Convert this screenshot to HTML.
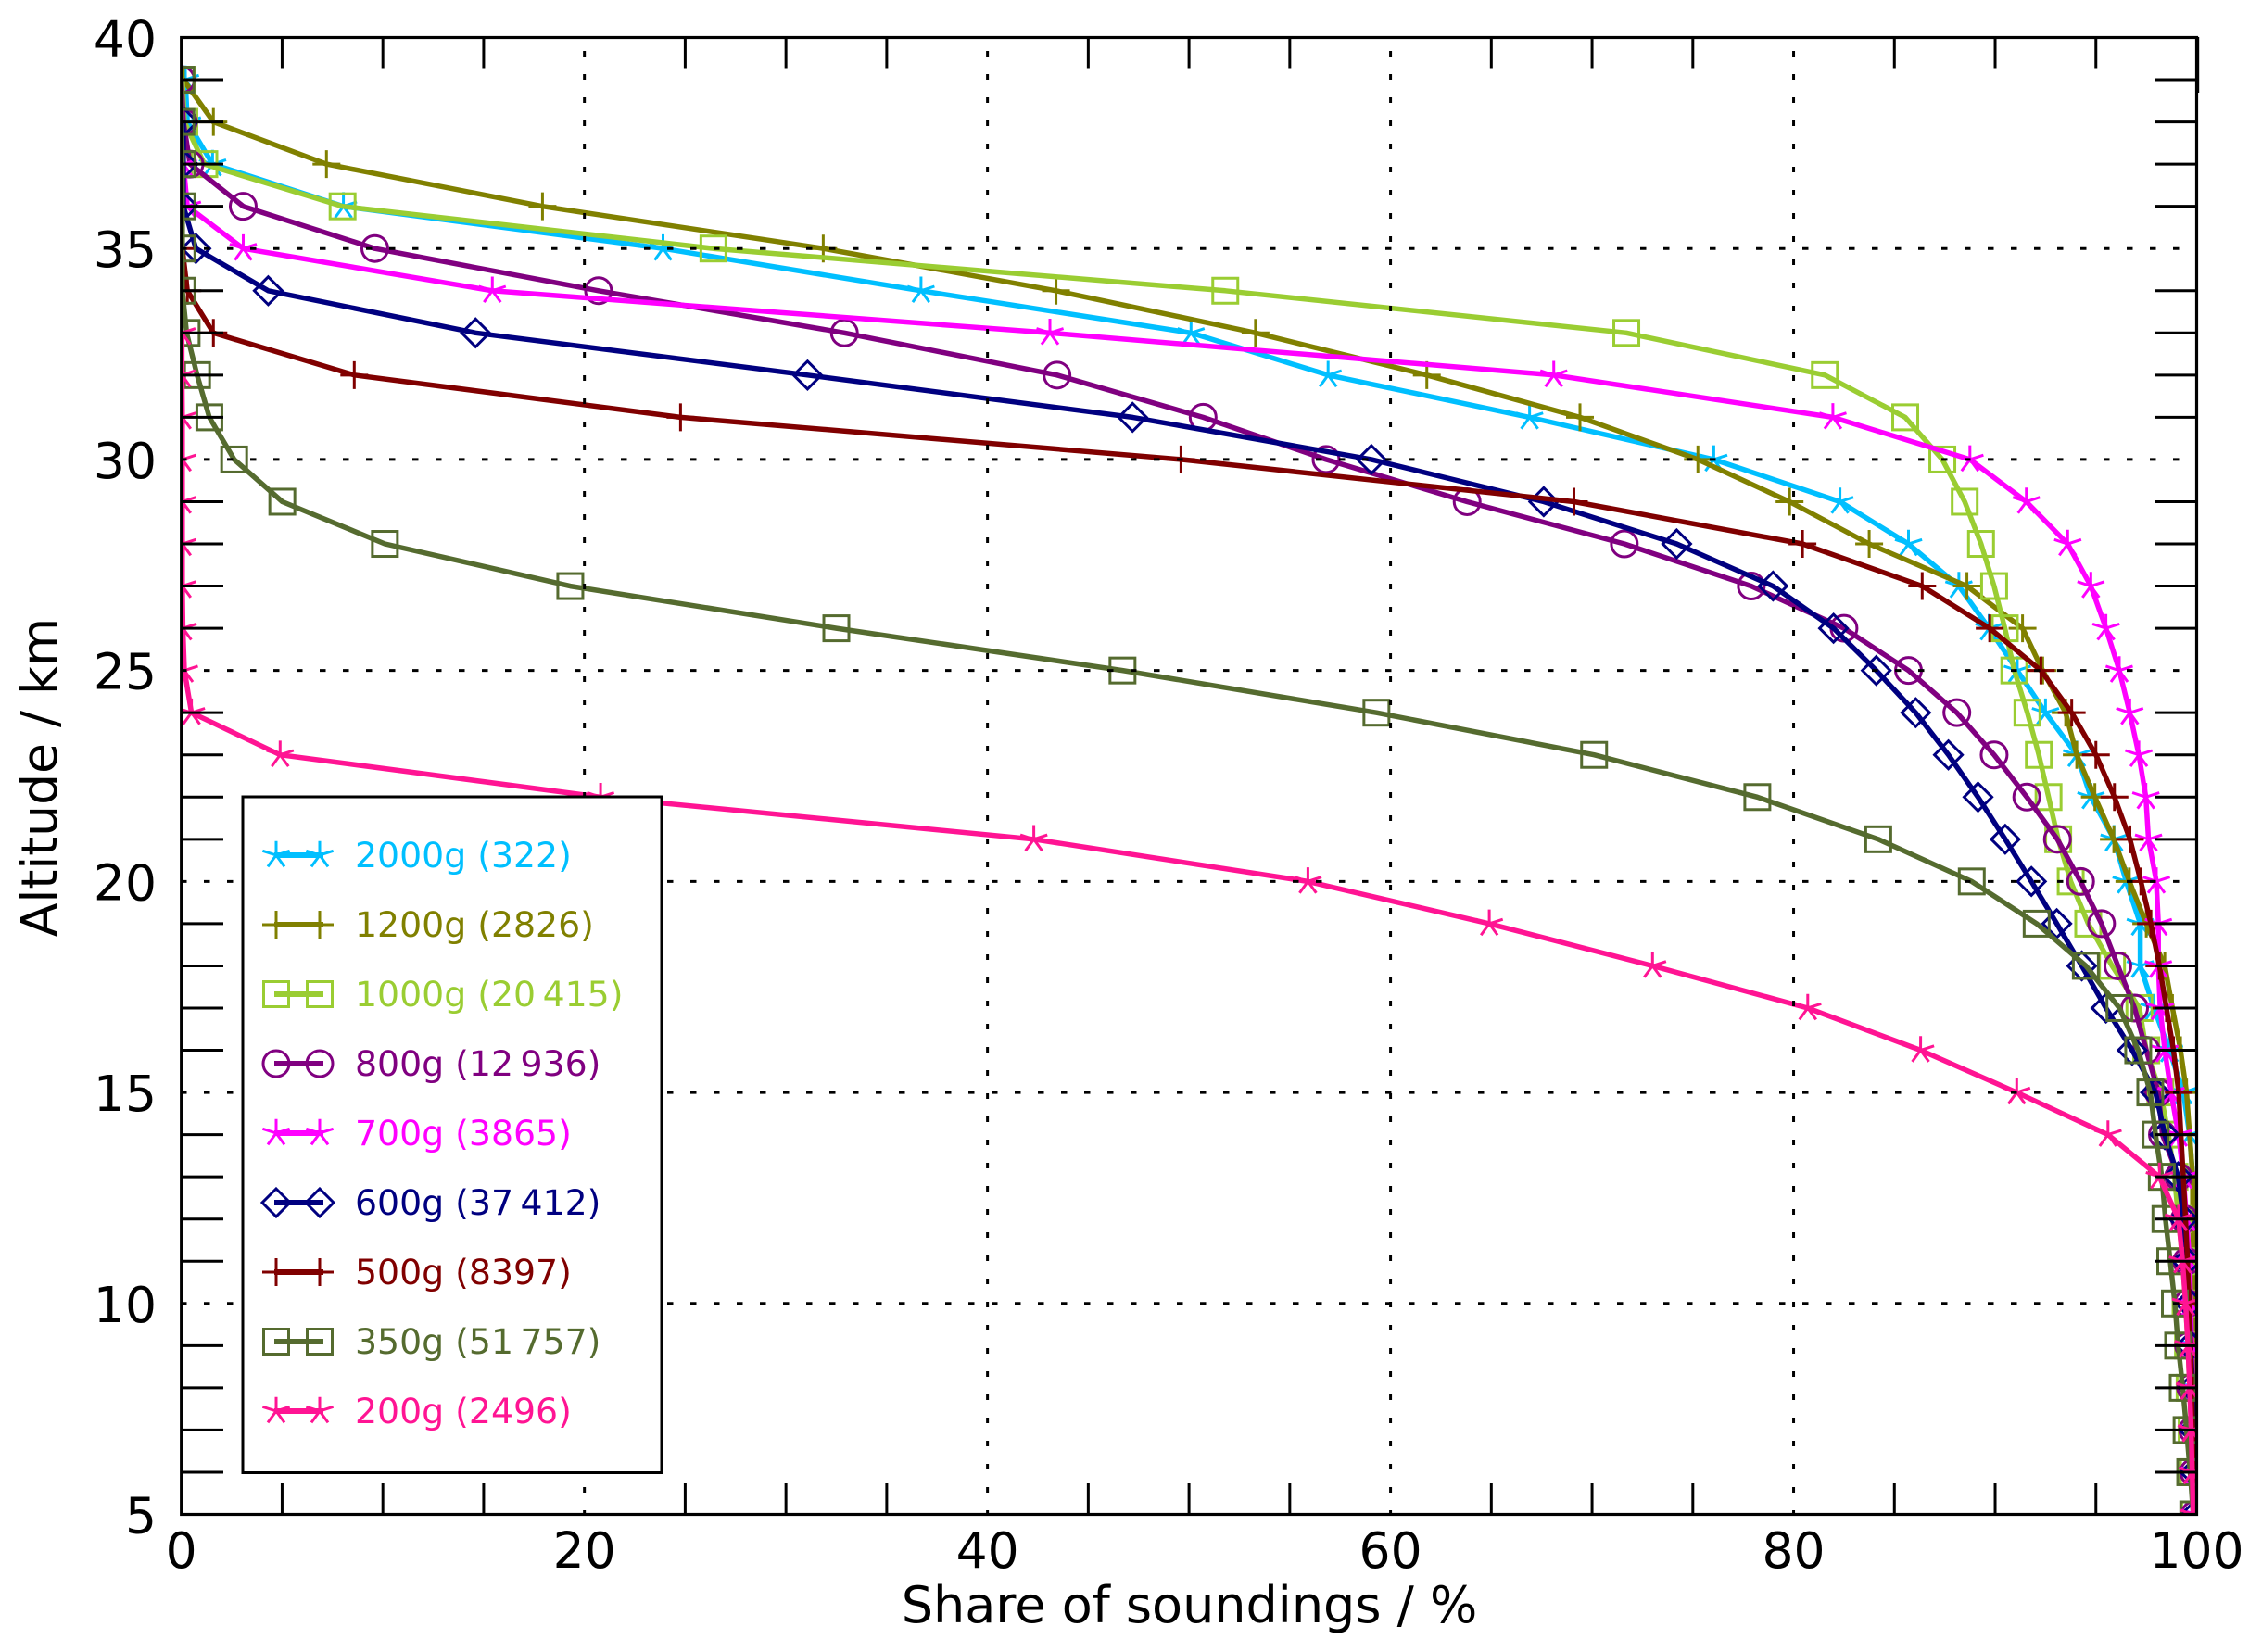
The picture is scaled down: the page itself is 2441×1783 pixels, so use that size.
<!DOCTYPE html>
<html lang="en">
<head>
<meta charset="utf-8">
<title>Share of soundings by altitude</title>
<style>
html,body{margin:0;padding:0;background:#fff;}
svg{display:block;}
text{font-family:"DejaVu Sans","Liberation Sans",sans-serif;}
</style>
</head>
<body>
<svg id="chart" xmlns="http://www.w3.org/2000/svg" width="2441" height="1783" viewBox="0 0 2441 1783">
  <defs>
    <clipPath id="plot-clip"><rect x="195.7" y="40.5" width="2174.8" height="1594"/></clipPath>
  </defs>
  <rect x="0" y="0" width="2441" height="1783" fill="#fff"/>
  <g id="series-layer" clip-path="url(#plot-clip)"></g>
  <g id="grid-layer"></g>
  <g id="tick-layer"></g>
  <rect x="195.7" y="40.5" width="2174.8" height="1594" fill="none" stroke="#000" stroke-width="3.2"/>
  <rect x="2371" y="40" width="2.2" height="60" fill="#000"/>
  <g id="label-layer" font-size="53.5" fill="#000"></g>
  <text x="1283.5" y="1751" font-size="54" text-anchor="middle" fill="#000">Share of soundings / %</text>
  <text x="61" y="839" font-size="53.5" text-anchor="middle" fill="#000" transform="rotate(-90 61 839)">Altitude / km</text>
  <rect x="262" y="860" width="452" height="729.5" fill="#fff" stroke="#000" stroke-width="3"/>
  <g id="legend-marks"></g>
  <g font-size="37.8">
    <text x="383" y="936" fill="#00BFFF">2000g (322)</text>
    <text x="383" y="1011" fill="#808000">1200g (2826)</text>
    <text x="383" y="1086" fill="#9ACD32">1000g (20&#8201;415)</text>
    <text x="383" y="1161" fill="#800080">800g (12&#8201;936)</text>
    <text x="383" y="1236" fill="#FF00FF">700g (3865)</text>
    <text x="383" y="1311" fill="#000080">600g (37&#8201;412)</text>
    <text x="383" y="1386" fill="#800000">500g (8397)</text>
    <text x="383" y="1461" fill="#556B2F">350g (51&#8201;757)</text>
    <text x="383" y="1536" fill="#FF1493">200g (2496)</text>
  </g>
</svg>
<script>
// Share of soundings (%) at integer altitudes; each array runs downward and ends at 5 km.
const share2000g = [0.2,0.3,1.55,8.04,23.9,36.7,50.1,56.9,66.9,76.04,82.3,85.7,88.2,89.7,91.1,92.5,94.05,94.75,95.9,96.5,97.2,97.2,97.88,98.65,99.34,99.65,99.8,99.82,99.85,99.87,99.89,99.91,99.93,99.94,99.95];
const share1200g = [0.1,1.59,7.2,17.92,31.85,43.4,53.3,61.8,69.4,75.25,79.8,83.75,88.6,91.36,92.36,93.5,94.05,94.95,95.89,96.66,97.5,98.42,98.8,99.2,99.5,99.65,99.8,99.8,99.85,99.87,99.89,99.91,99.93,99.95,99.96];
const share1000g = [0.05,0.15,1.14,8.0,26.4,51.8,71.7,81.55,85.54,87.38,88.49,89.3,89.95,90.48,90.95,91.6,92.17,92.65,93.13,93.75,94.62,95.8,97.16,97.5,98.2,98.6,98.9,99.1,99.3,99.45,99.57,99.65,99.75,99.82,99.88];
const share800g = [0.0,0.1,0.43,3.07,9.6,20.7,32.9,43.45,50.7,56.8,63.8,71.6,77.9,82.5,85.7,88.1,89.95,91.57,93.09,94.24,95.28,96.09,96.92,97.5,98.1,98.3,99.1,99.4,99.5,99.55,99.6,99.7,99.8,99.85,99.9];
const share700g = [0.1,0.3,3.07,15.43,43.1,68.1,81.95,88.75,91.55,93.6,94.75,95.5,96.16,96.68,97.13,97.48,97.61,98.0,98.1,98.1,98.19,98.42,98.73,99.1,99.34,99.5,99.65,99.7,99.75,99.8,99.85,99.9,99.95];
const share600g = [0.1,0.1,0.1,0.72,4.31,14.6,31.07,47.2,59.05,67.6,74.2,78.98,81.98,84.1,86.06,87.68,89.15,90.5,91.8,93.06,94.3,95.5,96.8,97.96,98.42,99.08,99.35,99.5,99.65,99.7,99.8,99.85,99.9,99.93];
const share500g = [0.05,0.3,1.59,8.58,24.77,49.6,69.1,80.44,86.38,89.73,92.27,93.8,95.0,95.92,96.69,97.23,97.73,98.15,98.5,98.85,99.11,99.22,99.34,99.45,99.55,99.62,99.7,99.75,99.8,99.85,99.9];
const share350g = [0.0,0.0,0.05,0.05,0.05,0.05,0.26,0.78,1.39,2.62,5.01,10.1,19.3,32.5,46.7,59.3,70.1,78.2,84.2,88.84,92.06,94.5,96.17,97.1,97.7,97.96,98.27,98.45,98.69,98.92,99.08,99.31,99.5,99.68,99.83];
const share200g = [0.03,0.03,0.05,0.05,0.05,0.05,0.05,0.08,0.15,0.5,4.9,20.8,42.3,55.9,64.9,73.0,80.7,86.3,91.07,95.6,98.15,99.1,99.3,99.45,99.57,99.65,99.73,99.78,99.83];

const seriesNames = ['2000g','1200g','1000g','800g','700g','600g','500g','350g','200g'];
const seriesColors = ['#00BFFF','#808000','#9ACD32','#800080','#FF00FF','#000080','#800000','#556B2F','#FF1493'];
const seriesMarkers = ['star','plus','square','circle','star','diamond','plus','square','star'];
const seriesValues = [share2000g,share1200g,share1000g,share800g,share700g,share600g,share500g,share350g,share200g];

const xTickLabels = [0,20,40,60,80,100];
const yTickLabels = [5,10,15,20,25,30,35,40];
const xMinorTicks = [5,10,15,25,30,35,45,50,55,65,70,75,85,90,95];
const yMinorTicks = [6,7,8,9,11,12,13,14,16,17,18,19,21,22,23,24,26,27,28,29,31,32,33,34,36,37,38,39];
const xGridValues = [20,40,60,80];
const yGridValues = [10,15,20,25,30,35];
const bottomKm = 5;

const NS = 'http://www.w3.org/2000/svg';
function xScale(v){ return 195.7 + (v / 100) * 2174.8; }
function yScale(km){ return 1634.5 - ((km - 5) / 35) * 1594; }

function make(tag, parent, attrs){
  const el = document.createElementNS(NS, tag);
  for (const k in attrs) el.setAttribute(k, attrs[k]);
  parent.appendChild(el);
  return el;
}

function drawMarker(parent, kind, cx, cy, color, name){
  const r = 15;
  const g = make('g', parent, {fill:'none', stroke:color, 'stroke-width':3});
  
  
  if (kind === 'square') {
    make('rect', g, {x:cx-r+1.5, y:cy-r+1.5, width:2*r-3, height:2*r-3});
  } else if (kind === 'circle') {
    make('circle', g, {cx:cx, cy:cy, r:r-1});
  } else if (kind === 'diamond') {
    make('path', g, {d:'M'+cx+' '+(cy-r)+'L'+(cx+r)+' '+cy+'L'+cx+' '+(cy+r)+'L'+(cx-r)+' '+cy+'Z'});
  } else if (kind === 'plus') {
    make('path', g, {d:'M'+(cx-r)+' '+cy+'H'+(cx+r)+'M'+cx+' '+(cy-r)+'V'+(cy+r)});
  } else {
    let d = '';
    for (let i = 0; i < 5; i++) {
      const a = (-90 + i * 72) * Math.PI / 180;
      d += 'M'+cx+' '+cy+'L'+(cx + r * 1.02 * Math.cos(a)).toFixed(1)+' '+(cy + r * 1.02 * Math.sin(a)).toFixed(1);
    }
    make('path', g, {d:d});
  }
}

// Series
const seriesLayer = document.getElementById('series-layer');
seriesNames.forEach(function(name, s){
  const values = seriesValues[s];
  const topKm = bottomKm + values.length - 1;
  const group = make('g', seriesLayer, {});
  
  
  const pts = values.map(function(v, i){ return xScale(v).toFixed(1) + ',' + yScale(topKm - i).toFixed(1); }).join(' ');
  const line = make('polyline', group, {points:pts, fill:'none', stroke:seriesColors[s], 'stroke-width':5.5, 'stroke-linejoin':'round', 'stroke-linecap':'round'});
  
  
  values.forEach(function(v, i){
    drawMarker(group, seriesMarkers[s], xScale(v), yScale(topKm - i), seriesColors[s], 'point-' + name);
  });
});

// Grid (on top of the series, dashed)
const gridLayer = document.getElementById('grid-layer');
xGridValues.forEach(function(v){
  const l = make('line', gridLayer, {x1:xScale(v), x2:xScale(v), y1:1636, y2:41, stroke:'#000', 'stroke-width':3, 'stroke-dasharray':'6 19'});
  
  
});
yGridValues.forEach(function(km){
  const l = make('line', gridLayer, {x1:195, x2:2352, y1:yScale(km), y2:yScale(km), stroke:'#000', 'stroke-width':3, 'stroke-dasharray':'6.5 18.5'});
  
  
});

// Ticks on all four sides
const tickLayer = document.getElementById('tick-layer');
xMinorTicks.forEach(function(v){
  const b = make('line', tickLayer, {x1:xScale(v), x2:xScale(v), y1:1634.5, y2:1601, stroke:'#000', 'stroke-width':3});
  
  
  const t = make('line', tickLayer, {x1:xScale(v), x2:xScale(v), y1:40.5, y2:73.5, stroke:'#000', 'stroke-width':3});
  
  
});
yMinorTicks.forEach(function(km){
  const a = make('line', tickLayer, {x1:195.7, x2:241, y1:yScale(km), y2:yScale(km), stroke:'#000', 'stroke-width':3});
  
  
  const c = make('line', tickLayer, {x1:2370.5, x2:2326, y1:yScale(km), y2:yScale(km), stroke:'#000', 'stroke-width':3});
  
  
});

// Tick labels
const labelLayer = document.getElementById('label-layer');
xTickLabels.forEach(function(v){
  const t = make('text', labelLayer, {x:xScale(v), y:1692, 'text-anchor':'middle'});
  
  
  t.textContent = String(v);
});
yTickLabels.forEach(function(km){
  const t = make('text', labelLayer, {x:169, y:yScale(km) + 20, 'text-anchor':'end'});
  
  
  t.textContent = String(km);
});

// Legend samples
const legendMarks = document.getElementById('legend-marks');
seriesNames.forEach(function(name, s){
  const cy = 923 + s * 75;
  const g = make('g', legendMarks, {});
  
  
  make('line', g, {x1:296, x2:349, y1:cy, y2:cy, stroke:seriesColors[s], 'stroke-width':6});
  drawMarker(g, seriesMarkers[s], 298, cy, seriesColors[s], 'legend-marker-left');
  drawMarker(g, seriesMarkers[s], 345, cy, seriesColors[s], 'legend-marker-right');
});
</script>
</body>
</html>
